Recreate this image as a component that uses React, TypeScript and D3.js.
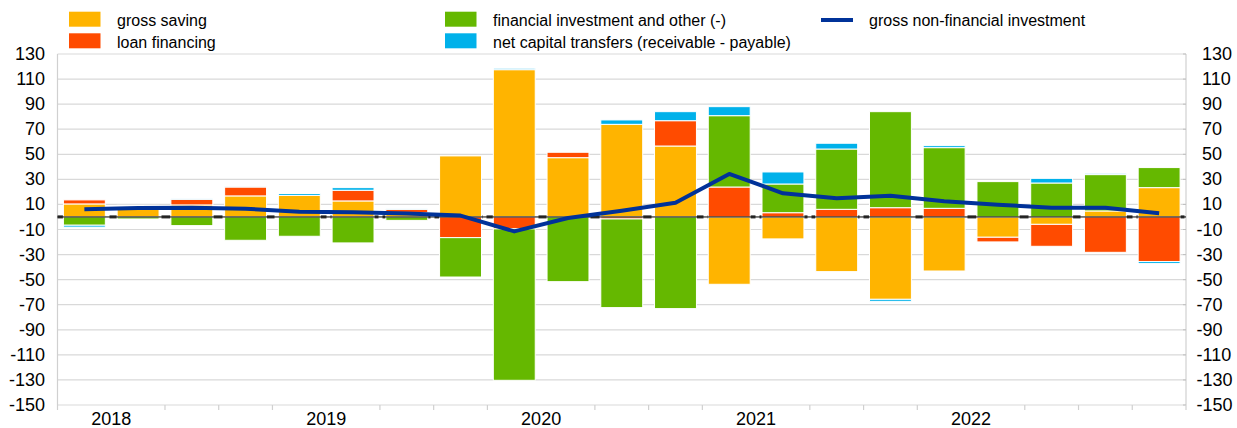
import React from "react";
import * as d3 from "d3";

const quarters = [
  "2017Q4", "2018Q1", "2018Q2", "2018Q3", "2018Q4",
  "2019Q1", "2019Q2", "2019Q3", "2019Q4",
  "2020Q1", "2020Q2", "2020Q3", "2020Q4",
  "2021Q1", "2021Q2", "2021Q3", "2021Q4",
  "2022Q1", "2022Q2", "2022Q3", "2022Q4",
];

const grossSaving = [10.4, 8.2, 9.6, 16.8, 17.2, 12.8, 3.4, 48.7, 117.5, 47.3, 73.9, 56.6, -53.7, -17.5, -43.6, -65.7, -43.1, -16.2, -5.9, 4.8, 23.4];
const loanFinancing = [3.2, 0.8, 4.5, 7.1, 0, 8.5, 2.7, -16.5, -9.5, 4.3, -1.6, 20.2, 23.9, 3.4, 6.1, 7.4, 6.9, -3.7, -17.5, -28.2, -35.6];
const financialInvestment = [-6.6, -1.6, -6.9, -18.6, -15.4, -20.7, -2.7, -31.4, -120.8, -51.6, -70.7, -73.1, 56.9, 22.9, 48.1, 76.6, 48.4, 28.2, 27.1, 29.0, 16.0];
const capitalTransfers = [-1.5, 0.3, 0.3, 0.3, 1.5, 2.1, 0.3, 0, 1.1, 0, 3.5, 7.2, 7.2, 9.6, 4.6, -1.6, 1.6, 0, 3.7, 1.0, -1.6];
const nonFinancialInvestment = [6.1, 7.2, 7.4, 6.6, 4.2, 3.7, 2.7, 1.1, -11.5, -0.8, 5.0, 11.4, 34.3, 18.9, 14.9, 17.0, 12.5, 9.8, 7.4, 7.4, 2.9];

const yTickValues = [-150, -130, -110, -90, -70, -50, -30, -10, 10, 30, 50, 70, 90, 110, 130];
const yearLabels = ["2018", "2019", "2020", "2021", "2022"];

const seriesKeys = ["saving", "loan", "financial", "capital"];
const seriesLabels = [
  "gross saving",
  "loan financing",
  "financial investment and other (-)",
  "net capital transfers (receivable - payable)",
];
const lineLabel = "gross non-financial investment";
const seriesColors = ["#FFB400", "#FF4B00", "#65B800", "#00B1EA"];
const lineColor = "#003299";

const W = 1237;
const H = 428;
const X0 = 57.5;
const X1 = 1186;
const YTOP = 54;
const YBOT = 405;
const FONT = "Arial, 'Liberation Sans', Helvetica, sans-serif";

export default function App() {
  const x = d3
    .scaleBand<string>()
    .domain(quarters)
    .range([X0, X1])
    .paddingInner(0.22)
    .paddingOuter(0.11);
  const y = d3.scaleLinear().domain([-150, 130]).range([YBOT, YTOP]);
  const step = x.step();
  const bw = x.bandwidth();

  const rows = quarters.map((q, i) => ({
    q,
    saving: grossSaving[i],
    loan: loanFinancing[i],
    financial: financialInvestment[i],
    capital: capitalTransfers[i],
  }));
  const stacked = d3
    .stack<any>()
    .keys(seriesKeys)
    .offset(d3.stackOffsetDiverging)(rows);

  const line = d3
    .line<number>()
    .x((_, i) => (x(quarters[i]) as number) + bw / 2)
    .y((d) => y(d));

  const boundary = (i: number) => (x(quarters[i]) as number) - step * 0.11;
  const boundaries = quarters.map((_, i) => boundary(i)).concat([X1]);
  const yearStarts = yearLabels.map((yr) => quarters.indexOf(yr + "Q1"));

  const zeroY = y(0);

  return (
    <svg
      width={W}
      height={H}
      style={{ position: "absolute", left: 0, top: 0, background: "#fff" }}
      fontFamily={FONT}
    >
      <rect x={0} y={0} width={W} height={H} fill="#fff" />
      {yTickValues.map((v) => (
        <line key={"g" + v} x1={X0} x2={X1} y1={y(v)} y2={y(v)} stroke="#d9d9d9" strokeWidth={1.2} />
      ))}
      <line x1={X0} x2={X0} y1={YTOP} y2={YBOT} stroke="#d0d0d0" strokeWidth={1.2} />
      <line x1={X1} x2={X1} y1={YTOP} y2={YBOT} stroke="#d0d0d0" strokeWidth={1.2} />
      {yTickValues.map((v) => (
        <line key={"rt" + v} x1={X1 - 3} x2={X1} y1={y(v)} y2={y(v)} stroke="#c0c0c0" strokeWidth={1} />
      ))}
      {boundaries.map((bx, i) =>
        yearStarts.includes(i) ? null : (
          <line key={"xt" + i} x1={bx} x2={bx} y1={YBOT} y2={YBOT + 5} stroke="#d0d0d0" strokeWidth={1.2} />
        )
      )}
      <line x1={X0} x2={X1} y1={zeroY} y2={zeroY} stroke="#4a4a4a" strokeWidth={3.2} strokeDasharray="9 4" />
      {stacked.map((s, si) => (
        <g key={s.key} fill={seriesColors[si]}>
          {s.map((d, i) => {
            const top = y(Math.max(d[0], d[1]));
            const bot = y(Math.min(d[0], d[1]));
            if (bot - top <= 0) return null;
            return (
              <rect
                key={i}
                x={x(quarters[i])}
                y={top}
                width={bw}
                height={bot - top}
                stroke="#fff"
                strokeWidth={1}
              />
            );
          })}
        </g>
      ))}
      <line x1={X0} x2={X1} y1={zeroY} y2={zeroY} stroke="#000" strokeWidth={1} />
      <path
        d={line(nonFinancialInvestment) as string}
        fill="none"
        stroke={lineColor}
        strokeWidth={4}
        strokeLinejoin="round"
      />
      {yTickValues.map((v) => (
        <text key={"yl" + v} x={45} y={y(v)} textAnchor="end" dominantBaseline="central" fontSize={18} fill="#000">
          {v}
        </text>
      ))}
      {yTickValues.map((v) => (
        <text
          key={"yr" + v}
          x={v < 0 ? 1196.5 : 1202}
          y={y(v)}
          textAnchor="start"
          dominantBaseline="central"
          fontSize={18}
          fill="#000"
        >
          {v}
        </text>
      ))}
      {yearLabels.map((yr, k) => (
        <text key={yr} x={boundaries[yearStarts[k]]} y={425} textAnchor="middle" fontSize={18} fill="#000">
          {yr}
        </text>
      ))}
      {seriesLabels.map((lab, i) => {
        const col = i < 2 ? 0 : 1;
        const row = i % 2;
        const sx = col === 0 ? 69 : 445;
        const sy = row === 0 ? 11.7 : 33.3;
        return (
          <g key={lab}>
            <rect x={sx} y={sy} width={31.5} height={15} fill={seriesColors[i]} />
            <text x={sx + 48} y={sy + 14.5} fontSize={16} fill="#000">
              {lab}
            </text>
          </g>
        );
      })}
      <line x1={821} x2={853} y1={20} y2={20} stroke={lineColor} strokeWidth={4} />
      <text x={869} y={26.2} fontSize={16} fill="#000">
        {lineLabel}
      </text>
    </svg>
  );
}
